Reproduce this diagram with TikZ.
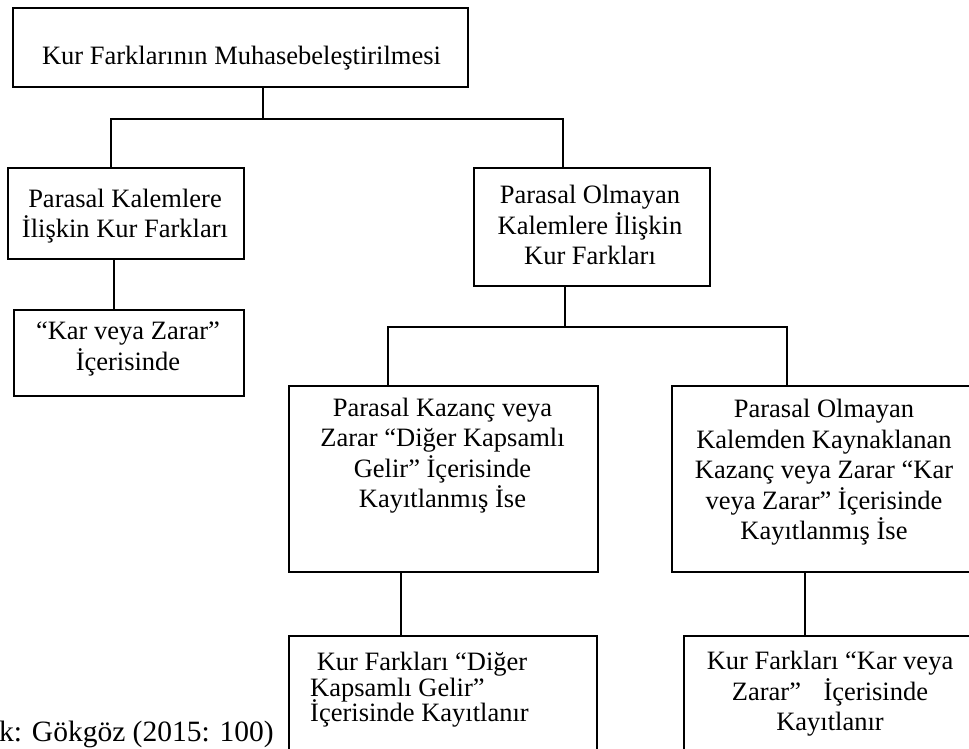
\documentclass[tikz,border=0pt]{standalone}
\usepackage{fontspec}
\setmainfont{Liberation Serif}
\newcommand\tightlines{\lineskiplimit-100pt\relax}
\begin{document}
\begin{tikzpicture}[x=1pt,y=-1pt,
  box/.style={draw, line width=1.6pt, inner sep=0pt, anchor=north west},
  txt/.style={align=center, inner sep=0pt,
    font={\fontsize{26.5}{30.5}\selectfont\tightlines}},
  txtl/.style={align=left, inner sep=0pt,
    font={\fontsize{26.5}{25.5}\selectfont\tightlines}},
  link/.style={line width=1.6pt}]
\useasboundingbox (0,0) rectangle (969,749);

% boxes
\node[box, minimum width=455, minimum height=79] (T) at (12,7) {};
\node[box, minimum width=236, minimum height=91] (A) at (7,167) {};
\node[box, minimum width=230, minimum height=86] (C) at (13,309) {};
\node[box, minimum width=236, minimum height=118] (B) at (473,167) {};
\node[box, minimum width=309, minimum height=186] (D) at (288,385) {};
\node[box, minimum width=314, minimum height=186] (E) at (671,385) {};
\node[box, minimum width=308, minimum height=140] (F) at (288,635) {};
\node[box, minimum width=302, minimum height=140] (G) at (683,635) {};

% texts
\node[txt] (Tt) at (241.5,58.9) {\strut Kur Farklarının Muhasebeleştirilmesi};
\node[txt] (At) at (125,216.4) {\strut Parasal Kalemlere\\\strut İlişkin Kur Farkları};
\node[txt] (Ct) at (128,349) {\strut “Kar veya Zarar”\\\strut İçerisinde};
\node[txt] (Bt) at (590,228) {\strut Parasal Olmayan\\\strut Kalemlere İlişkin\\\strut Kur Farkları};
\node[txt] (Dt) at (442.5,456) {\strut Parasal Kazanç veya\\\strut Zarar “Diğer Kapsamlı\\\strut Gelir” İçerisinde\\\strut Kayıtlanmış İse};
\node[txt] (Et) at (824,472.5) {\strut Parasal Olmayan\\\strut Kalemden Kaynaklanan\\\strut Kazanç veya Zarar “Kar\\\strut veya Zarar” İçerisinde\\\strut Kayıtlanmış İse};
\node[txtl, anchor=west] (Ft) at (310,691) {\strut\hspace*{0.25em}Kur Farkları “Diğer\\\strut Kapsamlı Gelir”\\\strut İçerisinde Kayıtlanır};
\node[txt] (Gt) at (830,694) {\strut Kur Farkları “Kar veya\\\strut Zarar”\hspace{0.6em} İçerisinde\\\strut Kayıtlanır};
\node[inner sep=0pt, anchor=base west, font=\fontsize{29.5}{34}\selectfont] (src) at (-1,741) {k: Gökgöz (2015: 100)};

% connectors
\coordinate (j1) at (263,119);
\coordinate (jA) at (111,119);
\coordinate (jB) at (563,119);
\draw[link] (T.south -| j1) -- (j1);
\draw[link] (A.north -| jA) -- (jA) -- (jB) -- (B.north -| jB);
\draw[link] ([xshift=-12pt]A.south) -- ([xshift=-15pt]C.north);

\coordinate (j2) at (565,327);
\coordinate (jD) at (388,327);
\coordinate (jE) at (787,327);
\draw[link] (B.south -| j2) -- (j2);
\draw[link] (D.north -| jD) -- (jD) -- (jE) -- (E.north -| jE);

\coordinate (kD) at (401,600);
\coordinate (kE) at (805,600);
\draw[link] (D.south -| kD) -- (F.north -| kD);
\draw[link] (E.south -| kE) -- (G.north -| kE);
\end{tikzpicture}
\end{document}
